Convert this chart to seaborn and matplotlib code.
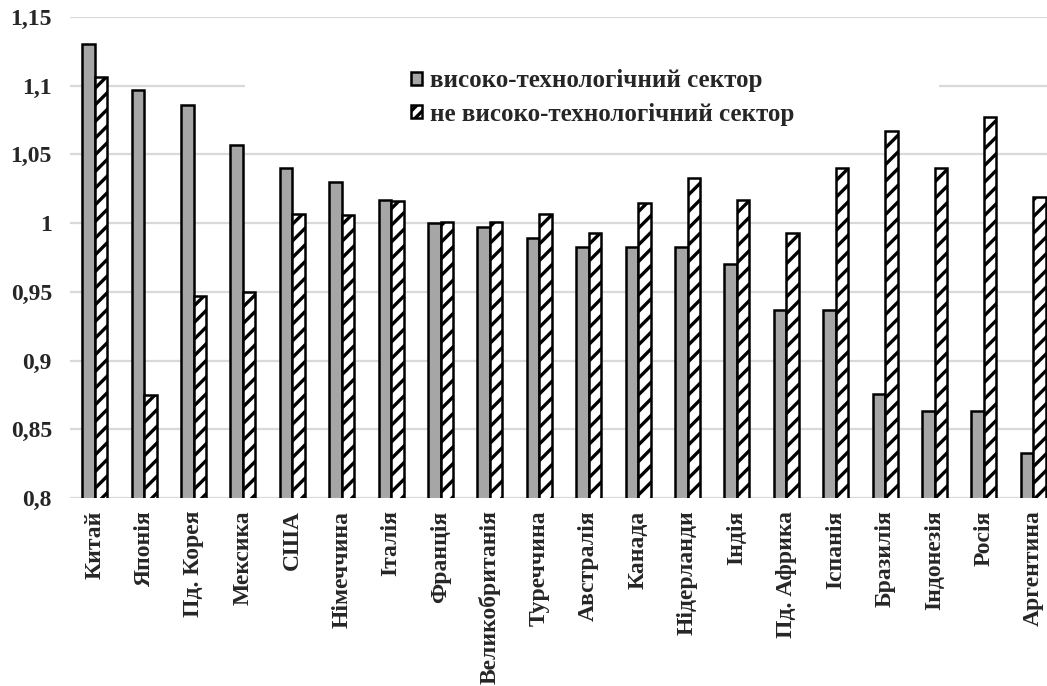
import matplotlib
matplotlib.use("Agg")
import matplotlib.pyplot as plt
from matplotlib.patches import Rectangle
import seaborn as sns
import pandas as pd

countries = ["Китай", "Японія", "Пд. Корея", "Мексика", "США", "Німеччина",
             "Італія", "Франція", "Великобританія", "Туреччина", "Австралія",
             "Канада", "Нідерланди", "Індія", "Пд. Африка", "Іспанія",
             "Бразилія", "Індонезія", "Росія", "Аргентина"]
high_tech = [1.130, 1.097, 1.086, 1.057, 1.040, 1.030, 1.017, 1.000, 0.997,
             0.989, 0.983, 0.983, 0.983, 0.970, 0.937, 0.937, 0.876, 0.863,
             0.863, 0.833]
non_high_tech = [1.106, 0.875, 0.947, 0.950, 1.007, 1.006, 1.016, 1.001, 1.001,
                 1.007, 0.993, 1.015, 1.033, 1.017, 0.993, 1.040, 1.067, 1.040,
                 1.077, 1.019]
series_names = ["високо-технологічний сектор", "не високо-технологічний сектор"]
y_ticks = [0.8, 0.85, 0.9, 0.95, 1.0, 1.05, 1.1, 1.15]
y_tick_labels = ["0,8", "0,85", "0,9", "0,95", "1", "1,05", "1,1", "1,15"]

df = pd.DataFrame({
    "country": countries * 2,
    "value": high_tech + non_high_tech,
    "sector": [series_names[0]] * len(countries) + [series_names[1]] * len(countries),
})

sns.set_style("white")
plt.rcParams["font.family"] = ["Liberation Serif", "DejaVu Serif"]
plt.rcParams["font.weight"] = "bold"
plt.rcParams["hatch.linewidth"] = 2.4

fig = plt.figure(figsize=(10.47, 6.86), dpi=100)
ax = fig.add_axes([70 / 1047, 188 / 686, 988 / 1047, 481 / 686])

palette = {series_names[0]: "#a6a6a6", series_names[1]: "white"}
sns.barplot(data=df, x="country", y="value", hue="sector", palette=palette,
            width=0.51, edgecolor="black", linewidth=1.8, ax=ax,
            legend=False, saturation=1)

# hatch the second series
for bar in ax.containers[1]:
    bar.set_hatch("//")
    bar.set_edgecolor("black")

ax.set_ylim(0.8, 1.15)
ax.set_yticks(y_ticks)
ax.set_yticklabels(y_tick_labels)
ax.set_xlabel("")
ax.set_ylabel("")
ax.set_xlim(-0.5, len(countries) - 0.5)
ax.tick_params(axis="both", length=0, labelsize=17)
ax.tick_params(axis="y", pad=13)
ax.tick_params(axis="x", pad=9)
for lbl in ax.get_xticklabels():
    lbl.set_rotation(90)
    lbl.set_fontweight("bold")
for lbl in ax.get_yticklabels():
    lbl.set_fontweight("bold")

ax.set_axisbelow(True)
ax.yaxis.grid(True, color="#d9d9d9", linewidth=1.6)
for s in ax.spines.values():
    s.set_visible(False)

# white backing behind the legend block
ax.add_patch(Rectangle((0.177, 0.755), 0.703, 0.197, transform=ax.transAxes,
                       facecolor="white", edgecolor="none", zorder=0.9))

handles = [Rectangle((0, 0), 1, 1, facecolor="#a6a6a6", edgecolor="black", linewidth=1.8),
           Rectangle((0, 0), 1, 1, facecolor="white", edgecolor="black", linewidth=1.8,
                     hatch="///")]
leg = fig.legend(handles, series_names, loc="upper left",
                 bbox_to_anchor=(393 / 1047, 1 - 52 / 686), frameon=False,
                 prop={"family": "Liberation Serif", "weight": "bold", "size": 18},
                 handlelength=0.45, handleheight=0.45, handletextpad=0.35,
                 labelspacing=0.4, borderpad=0.2)

fig.savefig("out.png", dpi=100)
